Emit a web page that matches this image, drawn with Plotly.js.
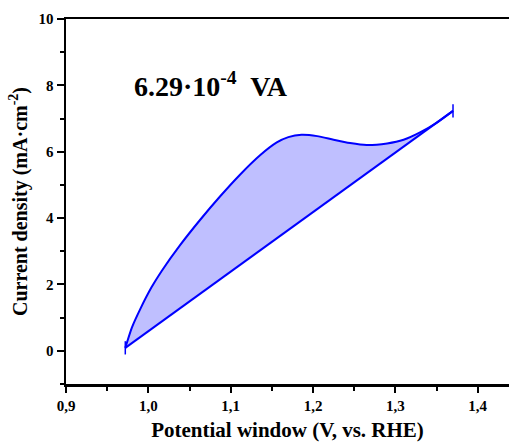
<!DOCTYPE html>
<html>
<head>
<meta charset="utf-8">
<script src="https://cdn.plot.ly/plotly-3.0.1.min.js"></script>
<style>html,body{margin:0;padding:0;background:#fff;}#chart{width:509px;height:446px;}</style>
</head>
<body>
<div id="chart"></div>
<script>
// Upper branch of the curve (potential V vs RHE, current density mA/cm2)
const potentialUp = [0.972, 0.980, 0.990, 1.004, 1.016, 1.039, 1.063, 1.087, 1.111, 1.136, 1.156, 1.170, 1.186, 1.205, 1.225, 1.245, 1.265, 1.290, 1.310, 1.330, 1.350, 1.370];
const currentUp   = [0.09, 0.70, 1.25, 1.92, 2.40, 3.20, 3.95, 4.65, 5.30, 5.90, 6.28, 6.44, 6.51, 6.47, 6.36, 6.26, 6.20, 6.25, 6.36, 6.58, 6.87, 7.23];
// Lower straight branch
const potentialLow = [0.972, 1.370];
const currentLow   = [0.09, 7.23];
const endError = [0.2, 0.2];
const xTickVals = [0.9, 1.0, 1.1, 1.2, 1.3, 1.4];
const xTickText = ['0,9', '1,0', '1,1', '1,2', '1,3', '1,4'];
const yTickVals = [0, 2, 4, 6, 8, 10];
const yTickText = ['0', '2', '4', '6', '8', '10'];
const areaLabel = '6.29·10<sup>-4</sup>  VA';

const fillX = potentialUp.concat(potentialLow.slice().reverse());
const fillY = currentUp.concat(currentLow.slice().reverse());

const FONT = 'Liberation Serif, Times New Roman, serif';
const bold = a => a.map(s => '<b>' + s + '</b>');

const traces = [
  {x: fillX, y: fillY, mode: 'lines', fill: 'toself', fillcolor: 'rgba(0,0,255,0.25)',
   line: {width: 0, color: 'rgba(0,0,0,0)'}, hoverinfo: 'skip', showlegend: false},
  {x: potentialUp, y: currentUp, mode: 'lines', line: {color: '#0000ff', width: 2, shape: 'spline', smoothing: 0.6}, showlegend: false},
  {x: potentialLow, y: currentLow, mode: 'lines', line: {color: '#0000ff', width: 2}, showlegend: false,
   error_y: {type: 'data', array: endError, visible: true, width: 0, thickness: 1.5, color: '#0000ff'}}
];

const layout = {
  width: 509, height: 446,
  margin: {l: 66, r: 0, t: 19, b: 62},
  paper_bgcolor: '#fff', plot_bgcolor: '#fff',
  separators: ',.',
  font: {family: FONT, color: '#000'},
  xaxis: {
    range: [0.9, 1.438], showgrid: false, zeroline: false,
    tickmode: 'array', tickvals: xTickVals, ticktext: bold(xTickText),
    ticks: 'outside', ticklen: 6, tickwidth: 2, tickcolor: '#000',
    minor: {dtick: 0.05, tick0: 0.9, ticks: 'outside', ticklen: 4, tickwidth: 2, tickcolor: '#000', showgrid: false},
    showline: true, linecolor: '#000', linewidth: 2.5, mirror: true,
    tickfont: {family: FONT, size: 15, color: '#000'},
    title: {text: '<b>Potential window (V, vs. RHE)</b>', font: {family: FONT, size: 21, color: '#000'}, standoff: 10}
  },
  yaxis: {
    range: [-1, 10], showgrid: false, zeroline: false,
    tickmode: 'array', tickvals: yTickVals, ticktext: bold(yTickText),
    ticks: 'outside', ticklen: 7, tickwidth: 2, tickcolor: '#000',
    minor: {dtick: 1, tick0: 1, ticks: 'outside', ticklen: 4, tickwidth: 2, tickcolor: '#000', showgrid: false},
    showline: true, linecolor: '#000', linewidth: 2.5, mirror: false,
    tickfont: {family: FONT, size: 15, color: '#000'},
    title: {text: '<b>Current density (mA·cm<sup>-2</sup>)</b>', font: {family: FONT, size: 20, color: '#000'}, standoff: 6}
  },
  annotations: [{
    x: 0.980, y: 8.04, xref: 'x', yref: 'y', xanchor: 'left', yanchor: 'middle',
    text: '<b>' + areaLabel + '</b>', showarrow: false,
    font: {family: FONT, size: 28, color: '#000'}
  }]
};

Plotly.newPlot('chart', traces, layout, {displayModeBar: false, staticPlot: true});
</script>
</body>
</html>
